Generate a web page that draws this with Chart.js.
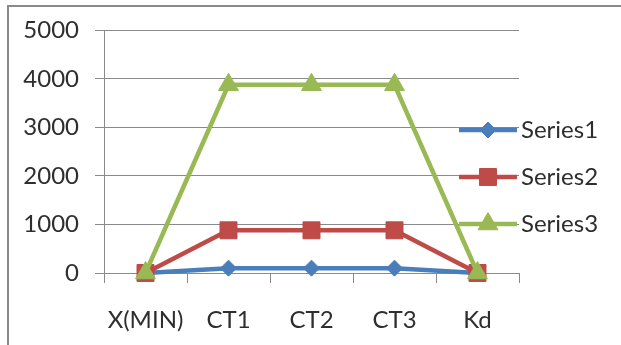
<!DOCTYPE html>
<html>
<head>
<meta charset="utf-8">
<script src="https://cdn.jsdelivr.net/npm/chart.js@4/dist/chart.umd.min.js"></script>
<style>
  html, body { margin: 0; padding: 0; background: #fff; }
  #wrap { position: relative; width: 621px; height: 345px; overflow: hidden; }
  #frame { position: absolute; left: 7px; top: 5px; width: 620px; height: 350px;
           border-left: 2px solid #8a8a8a; border-top: 2px solid #8a8a8a; pointer-events: none; }
</style>
</head>
<body>
<div id="wrap">
  <canvas id="chart" width="621" height="345"></canvas>
  <div id="frame"></div>
</div>
<script>
// Category labels along the horizontal axis
const categories = ['X(MIN)', 'CT1', 'CT2', 'CT3', 'Kd'];

// Series values
const series1 = [0, 100, 100, 100, 0];
const series2 = [0, 880, 880, 880, 0];
const series3 = [0, 3880, 3880, 3880, 0];

// Value axis ticks
const yTicks = [0, 1000, 2000, 3000, 4000, 5000];

const seriesNames = ['Series1', 'Series2', 'Series3'];
const seriesColors = ['#4a7ebb', '#be4b48', '#98b954'];
const seriesMarkers = [
  { pointStyle: 'rectRot', radius: 8 },
  { pointStyle: 'rect', radius: 12 },
  { pointStyle: 'triangle', radius: 11.5 }
];

const FONT = { family: 'Lato', size: 24 };
const TEXT = '#2e2e2e';
const GRID = '#8a8a8a';

// Legend glyph: a short line with the series marker in the middle
function legendIcon(color, marker) {
  const c = document.createElement('canvas');
  c.width = 58; c.height = 26;
  const ctx = c.getContext('2d');
  ctx.strokeStyle = color;
  ctx.lineWidth = 4.5;
  ctx.beginPath();
  ctx.moveTo(0, 13); ctx.lineTo(58, 13);
  ctx.stroke();
  ctx.fillStyle = color;
  ctx.strokeStyle = color;
  ctx.lineWidth = 1;
  Chart.helpers.drawPoint(ctx, { pointStyle: marker.pointStyle, radius: marker.radius, rotation: 0, borderWidth: 1 }, 29, 13);
  return c;
}
const legendIcons = seriesColors.map((col, i) => legendIcon(col, seriesMarkers[i]));

const seriesData = [series1, series2, series3];
const datasets = seriesData.map((d, i) => ({
  label: seriesNames[i],
  data: d,
  borderColor: seriesColors[i],
  backgroundColor: seriesColors[i],
  pointBackgroundColor: seriesColors[i],
  pointBorderColor: seriesColors[i],
  borderWidth: 4.5,
  pointStyle: seriesMarkers[i].pointStyle,
  pointRadius: seriesMarkers[i].radius,
  pointBorderWidth: 1,
  tension: 0,
  clip: false,
  order: 3 - i
}));

// Places the legend box so it sits over the right edge of the plot
const legendPlacement = {
  id: 'legendPlacement',
  afterLayout(chart) {
    const lg = chart.legend;
    lg.left = 444; lg.right = 621;
    lg.top = 95; lg.bottom = 345;
    lg.width = lg.right - lg.left;
    lg.height = lg.bottom - lg.top;
  }
};

new Chart(document.getElementById('chart'), {
  type: 'line',
  data: { labels: categories, datasets },
  options: {
    responsive: false,
    animation: false,
    devicePixelRatio: 1,
    layout: { padding: { left: 0, top: 29, right: 102, bottom: 0 } },
    plugins: {
      tooltip: { enabled: false },
      legend: {
        position: 'chartArea',
        align: 'start',
        labels: {
          usePointStyle: true,
          pointStyleWidth: 42,
          padding: 23,
          font: FONT,
          color: TEXT,
          sort: (a, b) => a.datasetIndex - b.datasetIndex,
          generateLabels(chart) {
            const items = Chart.defaults.plugins.legend.labels.generateLabels(chart);
            items.forEach(it => { it.pointStyle = legendIcons[it.datasetIndex]; });
            return items;
          }
        }
      }
    },
    scales: {
      x: {
        type: 'category',
        offset: true,
        grid: { offset: true, drawOnChartArea: false, drawTicks: true, tickLength: 10, color: GRID, lineWidth: 1 },
        border: { display: true, color: GRID },
        ticks: { font: FONT, color: TEXT, padding: 23, maxRotation: 0, autoSkip: false },
        afterFit(scale) { scale.height = 72; }
      },
      y: {
        min: yTicks[0],
        max: yTicks[yTicks.length - 1],
        afterBuildTicks(scale) { scale.ticks = yTicks.map(v => ({ value: v })); },
        grid: { color: GRID, lineWidth: 1, drawTicks: true, tickLength: 9 },
        border: { display: true, color: GRID },
        ticks: { font: FONT, color: TEXT, padding: 16, callback: v => String(v) },
        afterFit(scale) { scale.width = 104; }
      }
    }
  },
  plugins: [legendPlacement]
});
</script>
</body>
</html>
